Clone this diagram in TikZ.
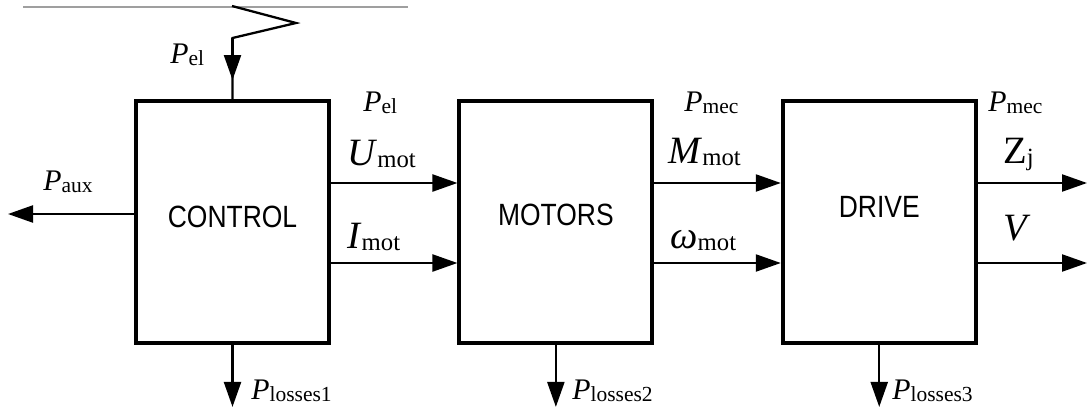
\documentclass[tikz,border=0pt]{standalone}
\usepackage{fontspec}
\usepackage{graphicx}
\setmainfont{Liberation Serif}
\newfontfamily\blockfont[FakeStretch=0.86]{Liberation Sans}
\usetikzlibrary{arrows.meta,positioning}
\newcommand{\sub}[2][0.72]{\raisebox{-0.15ex}{\scalebox{#1}{#2}}}

\begin{document}
\begin{tikzpicture}[
  block/.style={draw,line width=2.2pt,minimum width=3.86cm,minimum height=4.84cm,inner sep=0pt},
  blocktext/.style={inner sep=0pt,font=\blockfont\fontsize{17.5}{20}\selectfont},
  wire/.style={line width=1.3pt},
  flow/.style={line width=1.3pt,-{Triangle[length=0.5cm,width=0.34cm]}},
  lbl/.style={anchor=base west,inner sep=0pt,font=\fontsize{17}{19}\selectfont},
  biglbl/.style={anchor=base west,inner sep=0pt,font=\fontsize{22}{25}\selectfont},
  node distance=2.53cm
]
\useasboundingbox (0,0) rectangle (21.76,-8.14);
% blocks
\node[block] (ctrl) at (4.65,-4.44) {};
\node[block,right=of ctrl] (mot) {};
\node[block,right=of mot] (drv) {};
\node[blocktext] (ctrltxt) at ([yshift=0.1cm]ctrl.center) {CONTROL};
\node[blocktext] (mottxt) at ([yshift=0.14cm]mot.center) {MOTORS};
\node[blocktext] (drvtxt) at ([yshift=0.3cm]drv.center) {DRIVE};
% supply line and pantograph
\coordinate (railA) at (0.46,-0.14);
\coordinate (railB) at (8.16,-0.14);
\draw[gray!75,line width=0.6pt] (railA) -- (railB);
\coordinate (z0) at (4.64,-0.12);
\coordinate (z1) at (5.92,-0.46);
\coordinate (z2) at (4.65,-0.76);
\coordinate (ztip) at (4.65,-1.60);
\draw[wire,line join=miter] (z0) -- (z1) -- (z2) -- (ctrl.north);
\draw[flow] (z2) -- (ztip);
\node[lbl] (pelin) at (3.40,-1.26) {\textit{P}\sub{el}};
% auxiliaries
\coordinate (auxend) at (0.16,-4.28);
\draw[flow] (ctrl.west |- auxend) -- (auxend);
\node[lbl] (paux) at (0.86,-3.80) {\textit{P}\sub{aux}};
% control -> motors
\draw[flow] ([yshift=0.78cm]ctrl.east) -- ([yshift=0.78cm]mot.west);
\draw[flow] ([yshift=-0.82cm]ctrl.east) -- ([yshift=-0.82cm]mot.west);
\node[lbl] (pel) at (7.26,-2.22) {\textit{P}\sub{el}};
\node[biglbl] (umot) at (6.94,-3.30) {\textit{U}\sub[0.64]{mot}};
\node[biglbl] (imot) at (6.94,-4.96) {\textit{I}\sub[0.64]{mot}};
% motors -> drive
\draw[flow] ([yshift=0.78cm]mot.east) -- ([yshift=0.78cm]drv.west);
\draw[flow] ([yshift=-0.82cm]mot.east) -- ([yshift=-0.82cm]drv.west);
\node[lbl] (pmec) at (13.68,-2.22) {\textit{P}\sub{mec}};
\node[biglbl] (mmot) at (13.36,-3.26) {\textit{M}\sub[0.64]{mot}};
\node[biglbl] (wmot) at (13.40,-4.96) {\textit{ω}\sub[0.64]{mot}};
% drive outputs
\coordinate (zjend) at (21.74,-3.66);
\coordinate (vend) at (21.74,-5.26);
\draw[flow] (drv.east |- zjend) -- (zjend);
\draw[flow] (drv.east |- vend) -- (vend);
\node[lbl] (pmecout) at (19.76,-2.22) {\textit{P}\sub{mec}};
\node[biglbl] (zj) at (20.06,-3.26) {Z\sub[0.64]{j}};
\node[biglbl] (vel) at (20.06,-4.80) {\textit{V}};
% losses
\coordinate (loss1) at ([yshift=-1.24cm]ctrl.south);
\coordinate (loss2) at ([yshift=-1.24cm]mot.south);
\coordinate (loss3) at ([yshift=-1.24cm]drv.south);
\draw[flow] (ctrl.south) -- (loss1);
\draw[flow] (mot.south) -- (loss2);
\draw[flow] (drv.south) -- (loss3);
\node[lbl] (pl1) at (5.02,-7.98) {\textit{P}\sub{losses1}};
\node[lbl] (pl2) at (11.44,-7.98) {\textit{P}\sub{losses2}};
\node[lbl] (pl3) at (17.84,-7.98) {\textit{P}\sub{losses3}};
\end{tikzpicture}
\end{document}
